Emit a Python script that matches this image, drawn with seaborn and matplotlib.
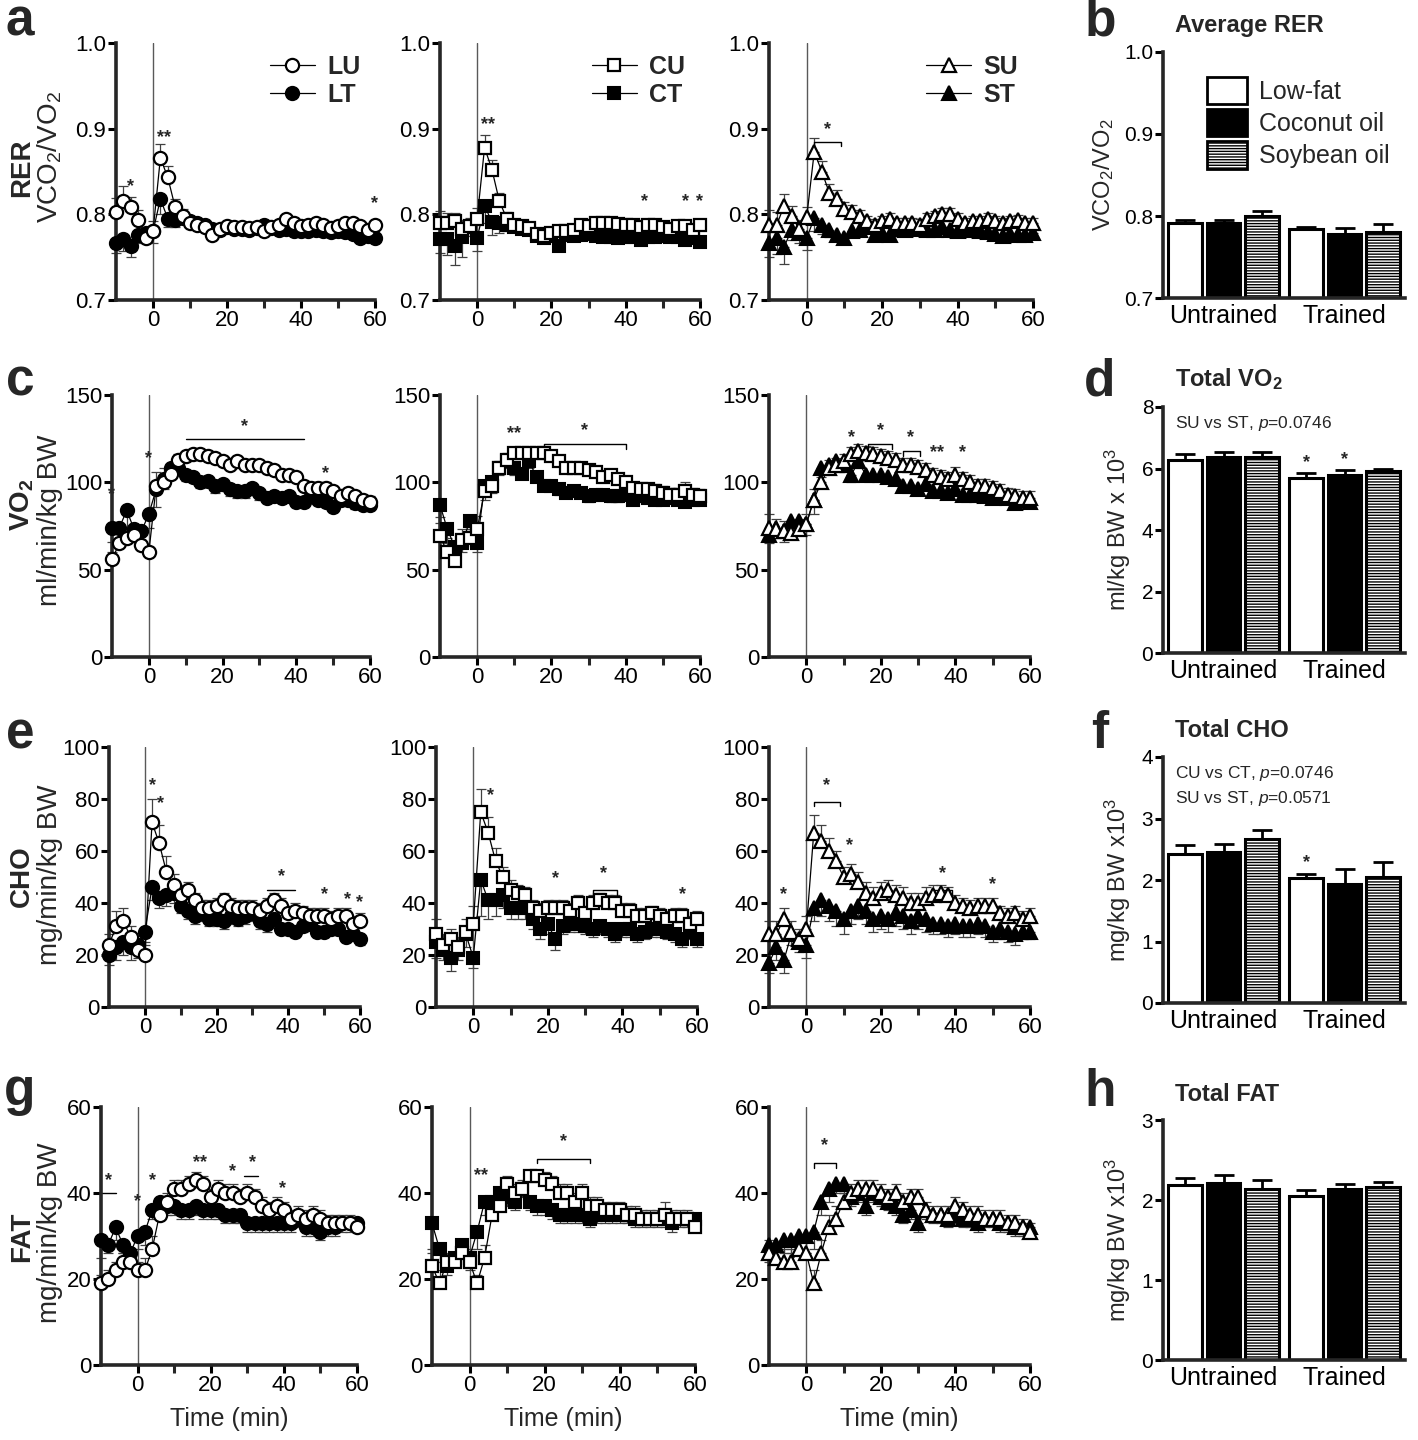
import numpy as np
import pandas as pd
import matplotlib
matplotlib.use("Agg")
import matplotlib.pyplot as plt
from matplotlib.patches import Patch
import seaborn as sns

sns.set_style("ticks")
plt.rcParams["font.family"] = ["Liberation Sans", "DejaVu Sans"]
plt.rcParams["mathtext.fontset"] = "custom"
plt.rcParams["mathtext.rm"] = "Liberation Sans"
plt.rcParams["mathtext.it"] = "Liberation Sans:italic"
plt.rcParams["mathtext.bf"] = "Liberation Sans:bold"
plt.rcParams["hatch.linewidth"] = 1.0

NARROW = ["Liberation Sans Narrow", "Liberation Sans", "DejaVu Sans"]

# ---------------- data ----------------
time = list(range(-10, 61, 2))

# RER
rer_lu = [.803,.815,.808,.793,.772,.780,.866,.843,.808,.798,.790,.787,.785,.776,.783,.786,.785,.785,.784,.785,.780,.785,.788,.794,.790,.786,.788,.790,.788,.784,.786,.790,.790,.786,.782,.788]
rer_lu_err = [.016,.018,.012,.012,.008,.012,.016,.014,.010,.008,.006,.006,.005,.005,.004,.004,.004,.004,.004,.004,.004,.004,.004,.004,.004,.004,.004,.004,.004,.004,.004,.004,.004,.004,.004,.004]
rer_lt = [.767,.771,.763,.776,.778,.780,.818,.795,.793,.796,.792,.790,.788,.783,.782,.785,.783,.783,.782,.784,.787,.784,.782,.783,.780,.781,.780,.782,.781,.779,.780,.779,.777,.772,.775,.772]
rer_lt_err = [.012,.014,.013,.010,.010,.014,.018,.010,.008,.006,.006,.005,.005,.005,.004,.004,.004,.004,.004,.004,.004,.004,.004,.004,.004,.004,.004,.004,.004,.004,.004,.004,.004,.004,.004,.004]
rer_cu = [.790,.790,.792,.783,.786,.795,.878,.852,.815,.795,.787,.786,.784,.777,.775,.778,.780,.780,.782,.787,.786,.790,.790,.790,.789,.787,.787,.785,.787,.787,.785,.783,.786,.786,.782,.787]
rer_cu_err = [.014,.012,.010,.010,.010,.012,.015,.012,.010,.008,.006,.006,.005,.005,.004,.004,.004,.004,.004,.004,.004,.004,.004,.004,.004,.004,.004,.004,.004,.004,.004,.004,.004,.004,.004,.004]
rer_ct = [.771,.771,.763,.773,.785,.772,.810,.791,.790,.788,.785,.783,.782,.775,.772,.775,.763,.776,.775,.776,.777,.775,.774,.773,.772,.773,.774,.770,.773,.774,.775,.773,.774,.770,.772,.768]
rer_ct_err = [.016,.018,.022,.023,.010,.015,.020,.015,.012,.008,.006,.006,.005,.006,.005,.005,.005,.004,.004,.004,.004,.004,.004,.004,.004,.004,.004,.004,.004,.004,.004,.004,.004,.004,.004,.004]
rer_su = [.787,.787,.810,.798,.783,.797,.873,.850,.825,.818,.806,.803,.798,.792,.788,.792,.795,.790,.790,.790,.788,.795,.798,.800,.800,.795,.790,.792,.792,.795,.792,.790,.792,.793,.790,.790]
rer_su_err = [.018,.016,.014,.012,.010,.012,.016,.012,.010,.010,.008,.008,.007,.006,.006,.006,.006,.006,.006,.006,.006,.006,.006,.007,.007,.006,.006,.006,.006,.006,.006,.006,.006,.006,.006,.006]
rer_st = [.766,.772,.762,.782,.778,.772,.796,.787,.782,.776,.772,.780,.782,.785,.776,.778,.776,.783,.782,.783,.784,.782,.782,.785,.782,.781,.783,.782,.781,.779,.777,.775,.777,.776,.776,.778]
rer_st_err = [.016,.018,.020,.012,.012,.014,.016,.010,.008,.007,.007,.006,.006,.006,.006,.006,.006,.006,.006,.006,.006,.006,.006,.006,.006,.006,.006,.006,.006,.006,.006,.006,.006,.006,.006,.006]

# VO2
vo2_lu = [56,65,68,70,64,60,98,100,105,113,115,116,116,115,114,112,110,112,110,110,110,108,107,104,104,103,98,97,97,97,95,92,94,92,90,89]
vo2_lu_err = [4,8,6,5,6,3,8,8,5,3,2,2,2,2,3,3,3,3,3,3,3,3,3,3,3,3,3,3,3,3,3,3,3,3,3,3]
vo2_lt = [74,74,84,73,72,82,96,102,108,108,104,103,100,101,98,99,96,95,95,97,94,91,92,91,92,89,89,92,90,89,86,90,90,88,87,87]
vo2_lt_err = [8,7,10,6,5,8,10,6,4,4,3,3,3,3,4,4,4,4,4,4,4,3,3,3,3,3,3,3,3,3,3,3,3,3,3,3]
vo2_cu = [69,60,55,67,68,73,95,98,108,113,117,117,117,117,117,115,112,108,108,108,107,106,103,104,102,100,97,96,96,95,94,93,93,95,93,92]
vo2_cu_err = [8,8,7,6,5,8,6,5,4,4,3,3,3,3,3,3,3,3,3,3,3,3,3,3,3,3,3,3,3,4,4,4,4,5,4,4]
vo2_ct = [87,73,63,65,78,65,98,100,108,112,108,105,112,103,98,98,96,94,95,94,92,93,93,92,92,93,90,92,91,90,90,91,90,89,90,90]
vo2_ct_err = [7,8,6,5,5,5,8,6,4,4,4,3,4,3,3,3,3,3,3,3,3,3,3,3,3,3,3,3,3,3,3,3,3,3,3,3]
vo2_su = [74,73,72,71,73,76,90,100,108,110,112,116,118,117,116,115,114,113,110,110,109,107,104,103,102,104,102,100,98,98,97,95,93,92,91,91]
vo2_su_err = [8,6,6,6,6,6,6,5,5,4,4,4,4,4,4,4,4,4,4,4,4,4,4,4,4,5,4,4,4,4,4,4,4,4,4,4]
vo2_st = [70,74,72,78,78,76,90,108,110,112,110,104,112,104,104,104,103,102,98,98,96,99,95,95,94,96,93,93,93,92,91,92,91,88,90,89]
vo2_st_err = [5,6,6,7,8,6,8,5,4,4,4,4,4,3,3,3,3,3,3,3,3,3,3,3,3,3,3,3,3,3,3,3,3,3,3,3]

# CHO
cho_lu = [24,31,33,27,22,20,71,63,52,47,43,45,41,38,38,39,41,39,38,38,38,37,39,41,39,36,37,36,35,35,35,34,35,35,32,33]
cho_lu_err = [4,6,5,4,4,5,9,7,6,4,4,3,3,3,3,3,3,3,3,3,3,3,3,3,3,3,3,3,3,3,3,3,3,3,3,3]
cho_lt = [20,23,25,23,24,29,46,42,43,44,39,37,35,36,34,34,33,35,34,35,36,33,32,34,30,30,29,31,32,29,29,30,30,27,28,26]
cho_lt_err = [4,5,5,5,5,5,5,4,4,4,3,3,3,3,3,3,3,3,3,3,3,3,3,3,2,2,2,2,2,2,2,2,2,2,2,2]
cho_cu = [28,24,26,23,29,32,75,67,56,50,45,44,43,38,37,38,38,38,37,40,36,40,41,40,40,37,37,35,35,36,35,34,35,35,32,34]
cho_cu_err = [6,4,4,4,5,7,9,6,5,4,4,3,3,3,3,3,3,3,3,3,3,3,3,3,3,3,3,3,3,3,3,3,3,3,3,3]
cho_ct = [25,22,19,22,28,19,49,41,41,43,38,38,38,34,30,32,26,31,32,32,31,30,31,30,28,30,30,28,29,30,30,29,28,26,29,26]
cho_ct_err = [6,4,5,4,5,4,14,7,6,5,4,4,4,4,4,4,4,3,3,3,3,3,3,3,3,3,3,3,3,3,3,3,3,3,3,3]
cho_su = [28,28,34,29,26,30,67,64,60,56,50,51,48,44,42,44,45,43,42,40,40,42,43,44,43,40,39,38,39,39,39,36,35,36,34,35]
cho_su_err = [5,5,4,4,4,5,7,6,5,4,4,4,4,4,4,4,4,4,4,4,4,4,4,3,3,3,3,3,3,3,3,3,3,3,3,3]
cho_st = [17,23,18,28,25,24,38,41,39,37,34,37,39,37,34,35,34,36,35,33,35,34,32,32,31,32,31,31,32,31,29,30,29,28,29,29]
cho_st_err = [4,5,5,4,4,5,5,6,6,6,6,5,5,5,5,5,5,5,5,5,5,5,4,4,4,4,4,4,4,4,4,4,4,4,3,3]

# FAT
fat_lu = [19,20,22,24,24,22,22,27,35,38,41,41,42,43,42,39,41,40,40,39,40,39,37,36,37,36,34,35,34,35,34,33,33,33,33,32]
fat_lu_err = [2,2,2,2,2,2,3,3,3,2,2,2,2,2,2,2,2,2,2,2,2,2,2,2,2,2,2,2,2,2,2,2,2,2,2,2]
fat_lt = [29,28,32,28,26,30,31,36,38,37,37,36,36,37,36,36,36,35,35,35,33,33,33,33,33,33,33,34,32,32,31,32,32,33,33,33]
fat_lt_err = [4,2,3,2,2,3,3,2,2,2,2,2,2,2,2,2,2,2,2,2,2,2,2,2,2,2,2,2,2,2,2,2,2,2,2,2]
fat_cu = [23,19,24,24,26,24,19,25,35,37,42,40,41,44,44,43,42,40,40,38,40,37,37,36,36,36,35,35,34,34,34,35,34,34,34,32]
fat_cu_err = [3,3,2,2,2,3,2,3,2,2,2,2,2,1,1,2,2,2,2,2,2,2,2,2,2,2,2,2,2,2,2,3,2,2,2,2]
fat_ct = [33,27,23,25,28,25,31,38,38,40,39,38,41,38,37,37,36,35,35,35,35,34,35,35,35,35,35,34,34,34,34,34,33,34,34,34]
fat_ct_err = [6,3,2,2,3,3,4,3,3,2,2,2,2,2,2,2,2,2,2,2,2,2,2,2,2,2,2,2,2,2,2,2,2,2,2,2]
fat_su = [26,25,24,24,27,26,19,26,32,34,38,40,41,41,41,40,39,40,38,39,39,36,35,35,35,37,36,35,35,34,34,34,33,33,32,31]
fat_su_err = [3,3,3,3,3,3,3,3,3,3,2,2,2,2,2,2,2,2,2,2,2,2,2,2,2,2,2,2,2,2,2,2,2,2,2,2]
fat_st = [28,28,29,29,30,30,31,38,41,42,42,39,40,37,40,39,38,37,35,36,33,36,35,35,34,35,34,34,33,34,34,33,33,32,32,32]
fat_st_err = [4,3,3,3,3,4,4,3,3,2,2,2,2,2,2,2,2,2,2,2,2,2,2,2,2,2,2,2,2,2,2,2,2,2,2,2]

# bar panels: order Untrained (LF, CO, SO), Trained (LF, CO, SO)
groups = ["Untrained", "Trained"]
diets = ["Low-fat", "Coconut oil", "Soybean oil"]
avg_rer = [0.791, 0.791, 0.800, 0.784, 0.778, 0.781]
avg_rer_err = [0.004, 0.004, 0.006, 0.003, 0.007, 0.009]
tot_vo2 = [6.28, 6.36, 6.36, 5.70, 5.80, 5.93]
tot_vo2_err = [0.18, 0.18, 0.18, 0.15, 0.14, 0.05]
tot_cho = [2.43, 2.45, 2.67, 2.03, 1.93, 2.05]
tot_cho_err = [0.14, 0.13, 0.15, 0.07, 0.25, 0.25]
tot_fat = [2.19, 2.21, 2.14, 2.05, 2.14, 2.16]
tot_fat_err = [0.08, 0.10, 0.11, 0.08, 0.06, 0.07]

# significance marks: ('t', x, y, text) star, ('b', x1, x2, y) bracket, ('l', x1, x2, y) plain line
sig = {
    "a1": [("t", -6, 0.823, "*"), ("t", 3, 0.880, "**"), ("t", 60, 0.803, "*")],
    "a2": [("t", 3, 0.895, "**"), ("t", 45, 0.805, "*"), ("t", 56, 0.805, "*"), ("t", 60, 0.805, "*")],
    "a3": [("b", 2, 9, 0.885), ("t", 5.5, 0.889, "*")],
    "c1": [("t", -10, 88, "*"), ("t", 0, 109, "*"), ("l", 10, 42, 125), ("t", 26, 127, "*"), ("t", 48, 100, "*")],
    "c2": [("t", 10, 123, "**"), ("b", 18, 40, 122), ("t", 29, 125, "*")],
    "c3": [("t", 12, 121, "*"), ("b", 16.5, 23, 122), ("t", 20, 125, "*"), ("b", 26, 30.5, 118), ("t", 28, 121, "*"),
           ("t", 35, 112, "**"), ("t", 42, 112, "*")],
    "e1": [("t", 2, 82, "*"), ("t", 4.5, 75, "*"), ("l", 34, 42, 45), ("t", 38, 47, "*"),
           ("t", 50, 40, "*"), ("t", 56.5, 38, "*"), ("t", 60, 37, "*")],
    "e2": [("t", 4.5, 78, "*"), ("t", 22, 46, "*"), ("b", 32, 38.5, 45), ("t", 35, 48, "*"), ("t", 56, 40, "*")],
    "e3": [("t", -6, 40, "*"), ("b", 2, 9, 79), ("t", 5.5, 82, "*"), ("t", 11.5, 59, "*"),
           ("b", 34, 39, 45), ("t", 36.5, 48, "*"), ("t", 50, 44, "*")],
    "g1": [("l", -10, -6, 40), ("t", -8, 41, "*"), ("t", 0, 36, "*"), ("t", 4, 41, "*"), ("t", 17, 45, "**"),
           ("t", 26, 43, "*"), ("l", 29, 33, 44), ("t", 31.5, 45, "*"), ("t", 39.5, 39, "*")],
    "g2": [("t", 3, 42, "**"), ("b", 18, 32, 48), ("t", 25, 50, "*")],
    "g3": [("b", 2, 8, 47), ("t", 5, 49, "*")],
}

W, H = 1418, 1440
fig = plt.figure(figsize=(W / 100, H / 100), dpi=100)


def rect(l, t, r, b):
    return [l / W, 1 - b / H, (r - l) / W, (b - t) / H]


def style_axes(ax):
    sns.despine(ax=ax)
    for s in ["left", "bottom"]:
        ax.spines[s].set_linewidth(2.6)
    ax.tick_params(width=2.2, length=6, direction="out", pad=1, colors="black")


def add_sig(ax, marks):
    for m in marks:
        if m[0] == "t":
            ax.text(m[1], m[2], m[3], ha="center", va="bottom", fontsize=13, fontweight="bold")
        elif m[0] == "b":
            x1, x2, y = m[1], m[2], m[3]
            span = ax.get_ylim()[1] - ax.get_ylim()[0]
            d = span * 0.018
            ax.plot([x1, x1, x2, x2], [y - d, y, y, y - d], color="black", lw=1.0, clip_on=False)
        else:
            ax.plot([m[1], m[2]], [m[3], m[3]], color="black", lw=1.0, clip_on=False)


def ts_panel(r, u, t, eu, et, mk, ms, names, ylim, yticks, yticklabels, marks, legend=False, xlabel=False):
    ax = fig.add_axes(r)
    ax.axvline(0, color="0.35", lw=1.0, zorder=1)
    zeros = np.zeros(len(time))
    ax.errorbar(time, t, yerr=[et, zeros], fmt="none", ecolor="0.25", elinewidth=0.9,
                capsize=3.5, capthick=0.9, zorder=2, clip_on=False)
    ax.errorbar(time, u, yerr=[zeros, eu], fmt="none", ecolor="0.25", elinewidth=0.9,
                capsize=3.5, capthick=0.9, zorder=2, clip_on=False)
    df = pd.DataFrame({"time": time + time, "value": t + u,
                       "group": [names[1]] * len(time) + [names[0]] * len(time)})
    sns.lineplot(data=df[df["group"] == names[1]], x="time", y="value", ax=ax, color="black",
                 lw=0.9, marker=mk, markersize=ms, markerfacecolor="black", markeredgecolor="black",
                 markeredgewidth=1.5, label=names[1], zorder=3, clip_on=False)
    sns.lineplot(data=df[df["group"] == names[0]], x="time", y="value", ax=ax, color="black",
                 lw=0.9, marker=mk, markersize=ms, markerfacecolor="white", markeredgecolor="black",
                 markeredgewidth=1.6, label=names[0], zorder=4, clip_on=False)
    ax.set_xlim(-10, 60)
    ax.set_ylim(*ylim)
    ax.set_xticks([0, 20, 40, 60])
    ax.set_xticks([10, 30, 50], minor=True)
    ax.set_yticks(yticks)
    ax.set_yticklabels(yticklabels)
    style_axes(ax)
    ax.tick_params(which="minor", width=2.2, length=6, direction="out")
    for lab in ax.get_xticklabels() + ax.get_yticklabels():
        lab.set_family(NARROW)
        lab.set_fontsize(16)
    ax.set_ylabel("")
    if xlabel:
        ax.set_xlabel("Time (min)", fontsize=18, family=NARROW, labelpad=8)
    else:
        ax.set_xlabel("")
    leg = ax.get_legend()
    if leg is not None:
        leg.remove()
    if legend:
        h, l = ax.get_legend_handles_labels()
        ax.legend(h[::-1], l[::-1], loc="upper right", bbox_to_anchor=(1.03, 1.04), frameon=False,
                  handlelength=1.8, handletextpad=0.5, labelspacing=0.15,
                  prop={"family": NARROW, "weight": "bold", "size": 18})
    add_sig(ax, marks)
    return ax


def bar_panel(r, vals, errs, ylim, yticks, yticklabels, ylabel, title, legend=False, note=None, stars=()):
    ax = fig.add_axes(r)
    df = pd.DataFrame({"group": [g for g in groups for _ in diets],
                       "diet": diets * 2, "value": vals})
    sns.barplot(data=df, x="group", y="value", hue="diet", hue_order=diets, order=groups,
                palette=["white", "black", "white"], saturation=1, edgecolor="black", linewidth=2.2,
                errorbar=None, width=0.95, gap=0.12, legend=False, ax=ax)
    bar_conts = list(ax.containers)
    for i, cont in enumerate(bar_conts):
        for j, bar in enumerate(cont):
            if diets[i] == "Soybean oil":
                bar.set_hatch("------")
            e = errs[j * 3 + i]
            x = bar.get_x() + bar.get_width() / 2
            ax.errorbar([x], [bar.get_height()], yerr=[[0], [e]], fmt="none", ecolor="black",
                        elinewidth=2.0, capsize=7, capthick=2.0, zorder=5)
    ax.set_xlim(-0.5, 1.5)
    ax.set_ylim(*ylim)
    ax.set_yticks(yticks)
    ax.set_yticklabels(yticklabels)
    style_axes(ax)
    ax.tick_params(axis="x", length=0, labelsize=18, pad=4)
    ax.tick_params(axis="y", labelsize=15)
    ax.set_xlabel("")
    ax.set_ylabel(ylabel, fontsize=17, labelpad=6)
    ax.text(0.05, 1.06, title, transform=ax.transAxes, fontsize=17, fontweight="bold", ha="left", va="bottom")
    if legend:
        handles = [Patch(facecolor="white", edgecolor="black", linewidth=2),
                   Patch(facecolor="black", edgecolor="black", linewidth=2),
                   Patch(facecolor="white", edgecolor="black", linewidth=2, hatch="------")]
        ax.legend(handles, diets, loc="upper right", bbox_to_anchor=(1.03, 0.99), frameon=False,
                  fontsize=18, handlelength=1.6, handleheight=1.3, handletextpad=0.5, labelspacing=0.2)
    if note:
        for k, line in enumerate(note):
            ax.text(0.05, 0.97 - k * 0.1, line, transform=ax.transAxes, fontsize=12.5, va="top", ha="left")
    for j in stars:
        bar = bar_conts[j % 3][j // 3]
        e = errs[j]
        ax.text(bar.get_x() + bar.get_width() / 2, bar.get_height() + e + (ylim[1] - ylim[0]) * 0.01,
                "*", ha="center", va="bottom", fontsize=13, fontweight="bold")
    return ax


# ---------------- row a / b : RER ----------------
rer_ticks = [0.7, 0.8, 0.9, 1.0]
rer_lbl = ["0.7", "0.8", "0.9", "1.0"]
ts_panel(rect(116, 43, 375, 300), rer_lu, rer_lt, rer_lu_err, rer_lt_err, "o", 9.5, ["LU", "LT"],
         (0.7, 1.0), rer_ticks, rer_lbl, sig["a1"], legend=True)
ts_panel(rect(440, 43, 700, 300), rer_cu, rer_ct, rer_cu_err, rer_ct_err, "s", 9, ["CU", "CT"],
         (0.7, 1.0), rer_ticks, rer_lbl, sig["a2"], legend=True)
ts_panel(rect(769, 43, 1033, 300), rer_su, rer_st, rer_su_err, rer_st_err, "^", 10, ["SU", "ST"],
         (0.7, 1.0), rer_ticks, rer_lbl, sig["a3"], legend=True)
bar_panel(rect(1163, 52, 1405, 298), avg_rer, avg_rer_err, (0.7, 1.0), rer_ticks, rer_lbl,
          "VCO$_2$/VO$_2$", "Average RER", legend=True)

# ---------------- row c / d : VO2 ----------------
vo2_ticks = [0, 50, 100, 150]
ts_panel(rect(112, 395, 370, 657), vo2_lu, vo2_lt, vo2_lu_err, vo2_lt_err, "o", 9.5, ["LU", "LT"],
         (0, 150), vo2_ticks, [str(v) for v in vo2_ticks], sig["c1"])
ts_panel(rect(440, 395, 700, 657), vo2_cu, vo2_ct, vo2_cu_err, vo2_ct_err, "s", 9, ["CU", "CT"],
         (0, 150), vo2_ticks, [str(v) for v in vo2_ticks], sig["c2"])
ts_panel(rect(769, 395, 1030, 657), vo2_su, vo2_st, vo2_su_err, vo2_st_err, "^", 10, ["SU", "ST"],
         (0, 150), vo2_ticks, [str(v) for v in vo2_ticks], sig["c3"])
bar_panel(rect(1163, 407, 1405, 653), tot_vo2, tot_vo2_err, (0, 8), [0, 2, 4, 6, 8],
          ["0", "2", "4", "6", "8"], "ml/kg BW x 10$^3$", "Total VO$_\\mathbf{2}$",
          note=["SU vs ST, $\\it{p}$=0.0746"], stars=[3, 4])

# ---------------- row e / f : CHO ----------------
cho_ticks = [0, 20, 40, 60, 80, 100]
ts_panel(rect(109, 747, 360, 1007), cho_lu, cho_lt, cho_lu_err, cho_lt_err, "o", 9.5, ["LU", "LT"],
         (0, 100), cho_ticks, [str(v) for v in cho_ticks], sig["e1"])
ts_panel(rect(436, 747, 697, 1007), cho_cu, cho_ct, cho_cu_err, cho_ct_err, "s", 9, ["CU", "CT"],
         (0, 100), cho_ticks, [str(v) for v in cho_ticks], sig["e2"])
ts_panel(rect(769, 747, 1030, 1007), cho_su, cho_st, cho_su_err, cho_st_err, "^", 10, ["SU", "ST"],
         (0, 100), cho_ticks, [str(v) for v in cho_ticks], sig["e3"])
bar_panel(rect(1163, 757, 1405, 1003), tot_cho, tot_cho_err, (0, 4), [0, 1, 2, 3, 4],
          ["0", "1", "2", "3", "4"], "mg/kg BW x10$^3$", "Total CHO",
          note=["CU vs CT, $\\it{p}$=0.0746", "SU vs ST, $\\it{p}$=0.0571"], stars=[3])

# ---------------- row g / h : FAT ----------------
fat_ticks = [0, 20, 40, 60]
ts_panel(rect(101, 1107, 357, 1365), fat_lu, fat_lt, fat_lu_err, fat_lt_err, "o", 9.5, ["LU", "LT"],
         (0, 60), fat_ticks, [str(v) for v in fat_ticks], sig["g1"], xlabel=True)
ts_panel(rect(432, 1107, 695, 1365), fat_cu, fat_ct, fat_cu_err, fat_ct_err, "s", 9, ["CU", "CT"],
         (0, 60), fat_ticks, [str(v) for v in fat_ticks], sig["g2"], xlabel=True)
ts_panel(rect(769, 1107, 1030, 1365), fat_su, fat_st, fat_su_err, fat_st_err, "^", 10, ["SU", "ST"],
         (0, 60), fat_ticks, [str(v) for v in fat_ticks], sig["g3"], xlabel=True)
bar_panel(rect(1163, 1120, 1405, 1360), tot_fat, tot_fat_err, (0, 3), [0, 1, 2, 3],
          ["0", "1", "2", "3"], "mg/kg BW x10$^3$", "Total FAT")

# ---------------- row labels and panel letters ----------------
row_labels = [("RER", "VCO$_2$/VO$_2$", 168, 157), ("VO$_\\mathbf{2}$", "ml/min/kg BW", 505, 520),
              ("CHO", "mg/min/kg BW", 876, 875), ("FAT", "mg/min/kg BW", 1237, 1233)]
for bold, reg, yb, yr in row_labels:
    fig.text(22 / W, 1 - yb / H, bold, rotation=90, ha="center", va="center", fontsize=20,
             fontweight="bold")
    fig.text(50 / W, 1 - yr / H, reg, rotation=90, ha="center", va="center", fontsize=20, family=NARROW)

letters = [("a", 20, 22), ("b", 1100, 22), ("c", 20, 382), ("d", 1100, 382),
           ("e", 20, 735), ("f", 1100, 735), ("g", 20, 1092), ("h", 1100, 1092)]
for ch, x, y in letters:
    fig.text(x / W, 1 - y / H, ch, ha="center", va="center", fontsize=37, fontweight="bold")

fig.savefig("out.png", dpi=100)
